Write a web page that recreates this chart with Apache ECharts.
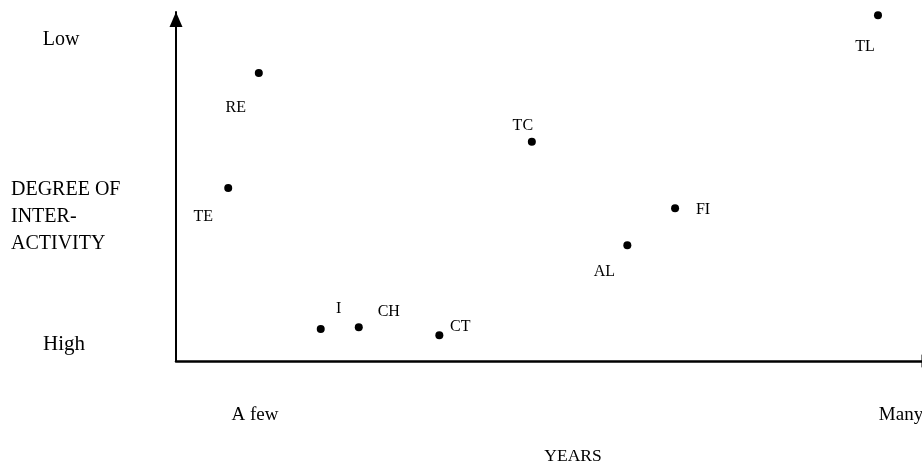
<!DOCTYPE html>
<html>
<head>
<meta charset="utf-8">
<script src="https://cdn.jsdelivr.net/npm/echarts@6/dist/echarts.min.js"></script>
<style>
html,body{margin:0;padding:0;background:#fff;}
#chart{width:922px;height:463px;}
</style>
</head>
<body>
<div id="chart"></div>
<script>
// ---- data ----
var pointNames = ['RE', 'TE', 'TC', 'FI', 'AL', 'I', 'CH', 'CT', 'TL'];
var yearsValues = [11.1, 7.0, 47.7, 66.9, 60.5, 19.4, 24.5, 35.3, 94.1];
var interactivityValues = [82.5, 49.6, 62.8, 43.8, 33.2, 9.2, 9.7, 7.4, 99.1];
var yTickLabels = ['High', 'Low'];
var xTickLabels = ['A few', 'Many'];
var yAxisTitleLines = ['DEGREE OF', 'INTER-', 'ACTIVITY'];
var xAxisTitle = 'YEARS';

// ---- styles (label offsets, px) ----
var labelOffsets = {
  RE: [-23, 35], TE: [-25, 29], TC: [-9, -16], FI: [28, 2], AL: [-23, 27],
  I: [18, -20], CH: [30, -15], CT: [21, -8], TL: [-13, 32]
};
var FONT = '"Liberation Serif", "DejaVu Serif", serif';

var chart = echarts.init(document.getElementById('chart'));
var data = pointNames.map(function (n, i) {
  return {
    name: n,
    value: [yearsValues[i], interactivityValues[i]],
    label: { offset: labelOffsets[n] }
  };
});

function txt(text, x, y, size, align) {
  return {
    type: 'text', x: x, y: y,
    style: { text: text, fill: '#000', font: size + 'px ' + FONT, align: align || 'center', verticalAlign: 'middle' }
  };
}

var graphics = [
  txt(yTickLabels[1], 61, 40, 20),
  txt(yTickLabels[0], 64, 344, 21),
  txt(xTickLabels[0], 255, 415, 19),
  txt(xTickLabels[1], 901, 415, 19),
  txt(xAxisTitle, 573, 456, 17.5)
];
yAxisTitleLines.forEach(function (l, i) {
  graphics.push(txt(l, 11, 190 + i * 27, 20, 'left'));
});

chart.setOption({
  animation: false,
  grid: { left: 176, right: 0, top: 12, bottom: 102 },
  xAxis: {
    type: 'value', min: 0, max: 100,
    axisLine: { show: true, onZero: false, symbol: ['none', 'triangle'], symbolSize: [13, 15], symbolOffset: [0, 7], lineStyle: { color: '#000', width: 2.5 } },
    axisTick: { show: false }, axisLabel: { show: false }, splitLine: { show: false }
  },
  yAxis: {
    type: 'value', min: 0, max: 100,
    axisLine: { show: true, onZero: false, symbol: ['none', 'triangle'], symbolSize: [13, 15], symbolOffset: [0, -7.5], lineStyle: { color: '#000', width: 2 } },
    axisTick: { show: false }, axisLabel: { show: false }, splitLine: { show: false }
  },
  graphic: graphics,
  series: [{
    type: 'scatter',
    symbol: 'circle',
    symbolSize: 8,
    itemStyle: { color: '#000', opacity: 1 },
    label: {
      show: true, position: 'inside', formatter: '{b}',
      color: '#000', fontFamily: FONT, fontSize: 16, align: 'center', verticalAlign: 'middle'
    },
    data: data
  }]
});
</script>
</body>
</html>
